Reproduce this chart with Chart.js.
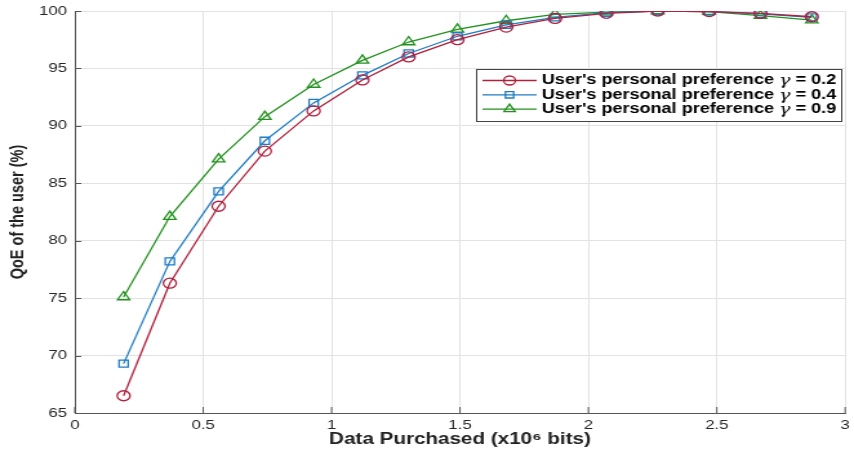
<!DOCTYPE html>
<html lang="en">
<head>
  <meta charset="UTF-8" />
  <title>QoE vs Data Purchased</title>
  <script src="https://cdn.jsdelivr.net/npm/chart.js"></script>
  <style>
    * { margin: 0; padding: 0; box-sizing: border-box; }
    body { background: #fff; width: 854px; height: 459px; overflow: hidden; }
    /* the original figure is stretched sideways, so draw narrow and widen it */
    .wrap {
      position: relative;
      width: 662px;
      height: 459px;
      transform: scaleX(1.29);
      transform-origin: 0 0;
    }
  </style>
</head>
<body>
<div class="wrap"><canvas id="qoe"></canvas></div>
<script>
// data
const dataPurchased = [0.19, 0.37, 0.56, 0.74, 0.93, 1.12, 1.30, 1.49, 1.68, 1.87, 2.07, 2.27, 2.47, 2.67, 2.87];
const qoeGamma02 = [66.5, 76.3, 83.0, 87.8, 91.3, 94.0, 96.0, 97.5, 98.6, 99.35, 99.8, 100, 99.95, 99.8, 99.5];
const qoeGamma04 = [69.3, 78.2, 84.3, 88.7, 92.0, 94.4, 96.3, 97.8, 98.8, 99.45, 99.85, 100, 99.95, 99.75, 99.45];
const qoeGamma09 = [75.1, 82.1, 87.1, 90.8, 93.6, 95.7, 97.3, 98.4, 99.15, 99.7, 99.9, 100, 99.95, 99.6, 99.2];
const gammas = ['0.2', '0.4', '0.9'];
const xTicks = [0, 0.5, 1, 1.5, 2, 2.5, 3];
const yTicks = [65, 70, 75, 80, 85, 90, 95, 100];

const series = [qoeGamma02, qoeGamma04, qoeGamma09];
const colors = ['#b0203c', '#1f7cc4', '#23921f'];
const markers = ['circle', 'rect', 'triangle'];
const radii = [5, 5, 5.5];

const datasets = series.map((vals, i) => ({
  label: "User's personal preference γ = " + gammas[i],
  gamma: gammas[i],
  data: vals.map((v, k) => ({ x: dataPurchased[k], y: v })),
  borderColor: colors[i],
  borderWidth: 1.3,
  pointStyle: markers[i],
  pointRadius: radii[i],
  pointBorderWidth: 1.3,
  pointBorderColor: colors[i],
  pointBackgroundColor: 'rgba(0,0,0,0)',
  pointHoverRadius: radii[i],
  fill: false,
  tension: 0
}));

const sans = "'Liberation Sans', Arial, sans-serif";
const tickFont = { family: sans, size: 13 };

// inward tick marks like the original figure
const innerTicks = {
  id: 'innerTicks',
  afterDatasetsDraw(chart) {
    const { ctx, chartArea: a, scales } = chart;
    ctx.save();
    ctx.strokeStyle = '#555';
    ctx.lineWidth = 1;
    ctx.beginPath();
    xTicks.forEach(t => {
      const px = scales.x.getPixelForValue(t);
      ctx.moveTo(px, a.bottom);
      ctx.lineTo(px, a.bottom - 6);
    });
    yTicks.forEach(t => {
      const py = Math.round(scales.y.getPixelForValue(t)) + 0.5;
      ctx.moveTo(a.left, py);
      ctx.lineTo(a.left + 5, py);
    });
    ctx.stroke();
    ctx.restore();
  }
};

// boxed legend with line + marker and an italic gamma
const boxLegend = {
  id: 'boxLegend',
  afterDraw(chart) {
    const ctx = chart.ctx;
    const left = 369, top = 69, w = 283, h = 52;
    ctx.save();
    ctx.fillStyle = '#fff';
    ctx.fillRect(left, top, w, h);
    ctx.strokeStyle = '#444';
    ctx.lineWidth = 1;
    ctx.strokeRect(left + 0.5, top + 0.5, w, h);
    const bold = "bold 14px " + sans;
    const ital = "italic 15px 'DejaVu Serif', 'Liberation Serif', serif";
    chart.data.datasets.forEach((ds, i) => {
      const y = top + 11.5 + i * 14.3;
      ctx.strokeStyle = ds.borderColor;
      ctx.fillStyle = 'rgba(0,0,0,0)';
      ctx.lineWidth = 1.3;
      ctx.beginPath();
      ctx.moveTo(374, y);
      ctx.lineTo(416, y);
      ctx.stroke();
      Chart.helpers.drawPoint(ctx, {
        pointStyle: ds.pointStyle, radius: ds.pointRadius - 0.5, rotation: 0, borderWidth: 1.3
      }, 395, y);
      ctx.fillStyle = '#000';
      ctx.textBaseline = 'middle';
      ctx.textAlign = 'left';
      let x = 420;
      const part1 = "User's personal preference ";
      ctx.font = bold;
      ctx.fillText(part1, x, y);
      x += ctx.measureText(part1).width;
      ctx.font = ital;
      ctx.fillText('γ', x, y + 1);
      x += ctx.measureText('γ').width;
      ctx.font = bold;
      ctx.fillText(' = ' + ds.gamma, x, y);
    });
    ctx.restore();
  }
};

new Chart(document.getElementById('qoe'), {
  type: 'line',
  data: { datasets },
  options: {
    responsive: true,
    maintainAspectRatio: false,
    animation: false,
    events: [],
    layout: { padding: { left: 0, right: 3, top: 11, bottom: 0 } },
    plugins: {
      legend: { display: false },
      tooltip: { enabled: false }
    },
    scales: {
      x: {
        type: 'linear',
        min: 0, max: 3,
        afterBuildTicks: s => { s.ticks = xTicks.map(v => ({ value: v })); },
        afterFit: s => { s.height = 46; s.paddingLeft = 0; s.paddingRight = 0; },
        grid: { color: '#e2e2e2', drawTicks: false },
        border: { color: '#555', width: 1 },
        ticks: { color: '#262626', font: tickFont, padding: 5, maxRotation: 0, callback: v => String(v) },
        title: {
          display: true,
          text: 'Data Purchased (x10\u2076 bits)',
          color: '#222',
          font: { family: sans, size: 16, weight: 'bold' },
          padding: { top: 0, bottom: 10 }
        }
      },
      y: {
        min: 65, max: 100,
        afterBuildTicks: s => { s.ticks = yTicks.map(v => ({ value: v })); },
        afterFit: s => { s.width = 58; s.paddingTop = 0; s.paddingBottom = 0; },
        grid: { color: '#e2e2e2', drawTicks: false },
        border: { color: '#555', width: 1 },
        ticks: { color: '#262626', font: tickFont, padding: 6, callback: v => String(v) },
        title: {
          display: true,
          text: 'QoE of the user (%)',
          color: '#222',
          font: { family: sans, size: 14.5, weight: 'bold' },
          padding: { top: 5, bottom: 0 }
        }
      }
    }
  },
  plugins: [innerTicks, boxLegend]
});
</script>
</body>
</html>
